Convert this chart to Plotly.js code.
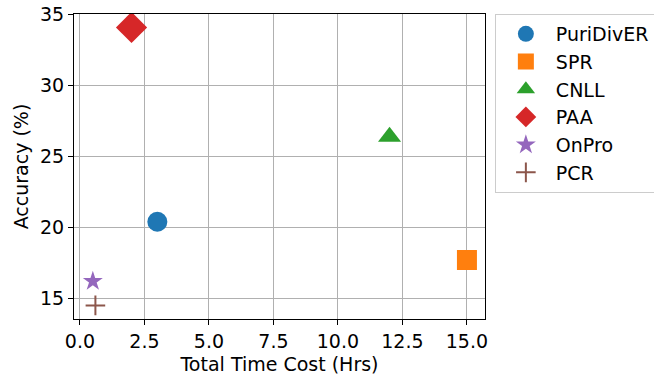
<!DOCTYPE html>
<html><head><meta charset="utf-8">
<script src="https://cdn.plot.ly/plotly-3.0.1.min.js"></script>
<style>body{margin:0;padding:0;background:#fff}#c{width:654px;height:378px}</style>
</head><body><div id="c"></div>
<script>
const methods = ["PuriDivER","SPR","CNLL","PAA","OnPro","PCR"];
const timeCost = [3.0, 15.0, 12.0, 2.0, 0.5, 0.6];
const accuracy = [20.4, 17.7, 26.4, 34.1, 16.2, 14.5];
const colors = ["#1f77b4","#ff7f0e","#2ca02c","#d62728","#9467bd","#8c564b"];
const symbols = ["circle","square","triangle-up","diamond","star","cross-thin"];
const sizes = [20, 20, 20, 24, 15, 14];
const xTicks = [0, 2.5, 5, 7.5, 10, 12.5, 15];
const yTicks = [15, 20, 25, 30, 35];

const traces = methods.map((m,i)=>({
  type:'scatter', mode:'markers', name:m,
  x:[timeCost[i]], y:[accuracy[i]],
  marker:{symbol:symbols[i], size:sizes[i], color:colors[i],
    line: symbols[i]==='cross-thin' ? {width:2, color:colors[i]} : {width:0}}
}));
const font = {family:'DejaVu Sans', size:19, color:'#000'};
const layout = {
  width:654, height:378,
  margin:{l:74, r:169, t:14, b:59, autoexpand:false},
  paper_bgcolor:'#fff', plot_bgcolor:'#fff',
  font:font, showlegend:true,
  xaxis:{range:[-0.23,15.7], tickvals:xTicks, ticktext:xTicks.map(v=>v.toFixed(1)),
    showgrid:true, gridcolor:'#b0b0b0', gridwidth:1, zeroline:false,
    showline:true, linecolor:'#000', linewidth:1, mirror:true,
    ticks:'outside', ticklen:5, tickcolor:'#000',
    title:{text:'Total Time Cost (Hrs)', font:font, standoff:6}},
  yaxis:{range:[13.54,35.05], tickvals:yTicks,
    showgrid:true, gridcolor:'#b0b0b0', gridwidth:1, zeroline:false,
    showline:true, linecolor:'#000', linewidth:1, mirror:true,
    ticks:'outside', ticklen:5, tickcolor:'#000',
    title:{text:'Accuracy (%)', font:font, standoff:6}},
  legend:{x:1.024, xanchor:'left', y:1.0, yanchor:'top',
    bordercolor:'#cccccc', borderwidth:1, font:font, bgcolor:'#fff',
    itemsizing:'trace', itemwidth:50}
};
Plotly.newPlot('c', traces, layout, {displayModeBar:false, staticPlot:true});
</script></body></html>
